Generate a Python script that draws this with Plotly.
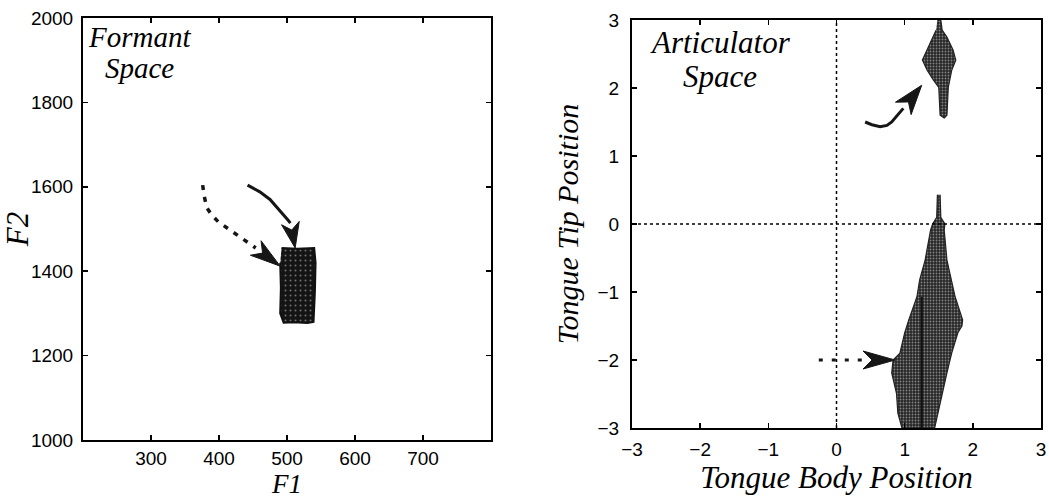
import plotly.graph_objects as go

# ---------------- data ----------------
F1_TICKS = [300, 400, 500, 600, 700]
F2_TICKS = [1000, 1200, 1400, 1600, 1800, 2000]
ART_TICKS = [-3, -2, -1, 0, 1, 2, 3]

# Formant space: region of reached formant values
formant_blob_f1 = [492, 515, 540, 542, 541, 539, 530, 510, 495, 490, 491, 490]
formant_blob_f2 = [1455, 1453, 1455, 1420, 1350, 1280, 1277, 1279, 1278, 1300, 1360, 1420]

# Formant space: solid trajectory and its arrow tip
solid_f1 = [442, 460, 475, 485, 495, 502, 505]
solid_f2 = [1604, 1588, 1570, 1552, 1535, 1520, 1514]
solid_tip = (512, 1455)

# Formant space: dashed trajectory and its arrow tip
dashed_f1 = [376, 378, 382, 390, 399, 416, 434, 446, 454]
dashed_f2 = [1604, 1580, 1550, 1532, 1517, 1498, 1479, 1464, 1455]
dashed_tip = (490, 1412)

# Articulator space: upper region
upper_body = [1.48, 1.53, 1.55, 1.62, 1.71, 1.75, 1.69, 1.66, 1.64, 1.62, 1.58,
              1.52, 1.50, 1.42, 1.33, 1.26, 1.33, 1.41, 1.46]
upper_tip = [3.0, 3.0, 2.85, 2.75, 2.56, 2.41, 2.26, 2.12, 2.01, 1.60, 1.56,
             1.60, 2.01, 2.12, 2.26, 2.41, 2.56, 2.75, 2.85]

# Articulator space: lower region
lower_body = [1.52, 1.53, 1.59, 1.58, 1.62, 1.69, 1.74, 1.85, 1.84, 1.78, 1.69,
              1.62, 1.55, 1.49, 1.44, 0.96, 0.90, 0.88, 0.81, 0.83, 0.93, 1.00,
              1.06, 1.18, 1.22, 1.30, 1.38, 1.41, 1.47, 1.48]
lower_tip = [0.43, 0.10, 0.00, -0.09, -0.53, -0.82, -1.07, -1.41, -1.50, -1.60, -1.90,
             -2.19, -2.49, -2.78, -3.00, -3.00, -2.78, -2.49, -2.19, -2.00, -1.90, -1.60,
             -1.41, -1.07, -0.82, -0.53, -0.09, 0.00, 0.10, 0.43]
inner_body = [1.25, 1.25]
inner_tip = [-1.07, -3.0]

# Articulator space: solid curved trajectory and arrow tip
curve_body = [0.42, 0.52, 0.64, 0.74, 0.81, 0.88, 0.98]
curve_tip = [1.50, 1.46, 1.43, 1.45, 1.50, 1.58, 1.70]
curve_arrow_tip = (1.25, 2.04)

# Articulator space: dashed trajectory and arrow tip
dash_body = [-0.26, 0.39]
dash_tip = [-2.0, -2.0]
dash_arrow_tip = (0.86, -2.0)

# ---------------- layout geometry ----------------
W, H = 1049, 499
L_X = [83, 491]     # pixel extents of the left panel
L_Y = [18, 440]
R_X = [632, 1041]
R_Y = [20, 428]
F1_RANGE = [200, 800]
F2_RANGE = [1000, 2000]
ART_RANGE = [-3, 3]

def xdom(px):
    return [px[0] / W, px[1] / W]

def ydom(py):
    return [1 - py[1] / H, 1 - py[0] / H]

def arrowhead(base, tip, xr, yr, pxx, pxy, halfw, notch=0.28):
    """Notched arrowhead polygon in data coordinates."""
    sx = (pxx[1] - pxx[0]) / (xr[1] - xr[0])
    sy = (pxy[1] - pxy[0]) / (yr[1] - yr[0])
    dx = (tip[0] - base[0]) * sx
    dy = (tip[1] - base[1]) * sy
    ln = (dx * dx + dy * dy) ** 0.5
    ux, uy = dx / ln, dy / ln
    nx, ny = -uy, ux
    bx, by = base[0] * sx, base[1] * sy
    tx, ty = tip[0] * sx, tip[1] * sy
    pts = [(tx, ty), (bx + nx * halfw, by + ny * halfw),
           (bx + ux * ln * notch, by + uy * ln * notch),
           (bx - nx * halfw, by - ny * halfw), (tx, ty)]
    return [p[0] / sx for p in pts], [p[1] / sy for p in pts]

fig = go.Figure()

DARK = "#161616"

# ---- left panel ----
fig.add_trace(go.Scatter(
    x=formant_blob_f1, y=formant_blob_f2, mode="lines", fill="toself",
    line=dict(color="#111", width=2), fillcolor="#151515",
    fillpattern=dict(shape=".", bgcolor="#141414", fgcolor="#cfcfcf",
                     size=5, solidity=0.12),
    xaxis="x", yaxis="y", showlegend=False, hoverinfo="skip"))
fig.add_trace(go.Scatter(
    x=solid_f1, y=solid_f2, mode="lines", line=dict(color=DARK, width=3),
    xaxis="x", yaxis="y", showlegend=False))
fig.add_trace(go.Scatter(
    x=dashed_f1, y=dashed_f2, mode="lines",
    line=dict(color=DARK, width=3.5, dash="5px,7px"),
    xaxis="x", yaxis="y", showlegend=False))
for base, tip, hw in [((solid_f1[-1], solid_f2[-1]), solid_tip, 9),
                      ((dashed_f1[-1], dashed_f2[-1]), dashed_tip, 9)]:
    ax_, ay_ = arrowhead(base, tip, F1_RANGE, F2_RANGE, L_X, L_Y, hw)
    fig.add_trace(go.Scatter(x=ax_, y=ay_, mode="lines", fill="toself",
                             line=dict(color=DARK, width=1), fillcolor=DARK,
                             xaxis="x", yaxis="y", showlegend=False))

# ---- right panel ----
for bx, ty in [(upper_body, upper_tip), (lower_body, lower_tip)]:
    fig.add_trace(go.Scatter(
        x=bx, y=ty, mode="lines", fill="toself",
        line=dict(color="#222", width=1.2), fillcolor="#2a2a2a",
        fillpattern=dict(shape=".", bgcolor="#262626", fgcolor="#e0e0e0",
                         size=3, solidity=0.3),
        xaxis="x2", yaxis="y2", showlegend=False, hoverinfo="skip"))
fig.add_trace(go.Scatter(
    x=inner_body, y=inner_tip, mode="lines", line=dict(color="#111", width=2),
    xaxis="x2", yaxis="y2", showlegend=False))
fig.add_trace(go.Scatter(
    x=curve_body, y=curve_tip, mode="lines", line=dict(color=DARK, width=3),
    xaxis="x2", yaxis="y2", showlegend=False))
fig.add_trace(go.Scatter(
    x=dash_body, y=dash_tip, mode="lines",
    line=dict(color=DARK, width=3, dash="4px,9px"),
    xaxis="x2", yaxis="y2", showlegend=False))
for base, tip, hw in [((curve_body[-1], curve_tip[-1]), curve_arrow_tip, 10),
                      ((dash_body[-1], dash_tip[-1]), dash_arrow_tip, 9)]:
    ax_, ay_ = arrowhead(base, tip, ART_RANGE, ART_RANGE, R_X, R_Y, hw)
    fig.add_trace(go.Scatter(x=ax_, y=ay_, mode="lines", fill="toself",
                             line=dict(color=DARK, width=1), fillcolor=DARK,
                             xaxis="x2", yaxis="y2", showlegend=False))

TICKFONT = dict(family="Liberation Sans, Arial, sans-serif", size=19, color="black")
TITLEFONT = dict(family="Liberation Serif, Times New Roman, serif", size=30, color="black")
TEXTFONT = dict(family="Liberation Serif, Times New Roman, serif", size=29, color="black")

axis_common = dict(showline=True, linecolor="black", linewidth=2, mirror="ticks",
                   ticks="inside", ticklen=5, tickwidth=1.5, tickcolor="black",
                   showgrid=False, zeroline=False, tickfont=TICKFONT,
                   automargin=False, fixedrange=True)

fig.update_layout(
    width=W, height=H, margin=dict(l=0, r=0, t=0, b=0),
    plot_bgcolor="white", paper_bgcolor="white", showlegend=False,
    xaxis=dict(domain=xdom(L_X), range=F1_RANGE, tickvals=F1_TICKS,
               title=dict(text="<i>F1</i>", font=dict(TITLEFONT, size=27), standoff=15),
               ticklabelstandoff=0, anchor="y", **axis_common),
    yaxis=dict(domain=ydom(L_Y), range=F2_RANGE, tickvals=F2_TICKS,
               title=dict(text="<i>F2</i>", font=dict(TITLEFONT, size=31), standoff=6),
               ticklabelstandoff=4, anchor="x", **axis_common),
    xaxis2=dict(domain=xdom(R_X), range=ART_RANGE, tickvals=ART_TICKS,
                title=dict(text="<i>Tongue Body Position</i>", font=dict(TITLEFONT, size=31),
                           standoff=2),
                ticklabelstandoff=3, anchor="y2", **axis_common),
    yaxis2=dict(domain=ydom(R_Y), range=ART_RANGE, tickvals=ART_TICKS,
                title=dict(text="<i>Tongue Tip Position</i>", font=TITLEFONT, standoff=10),
                ticklabelstandoff=7, anchor="x2", **axis_common),
    shapes=[
        dict(type="line", xref="x2", yref="y2 domain", x0=0, x1=0, y0=0, y1=1,
             line=dict(color="black", width=1.5, dash="dot")),
        dict(type="line", xref="x2 domain", yref="y2", x0=0, x1=1, y0=0, y1=0,
             line=dict(color="black", width=1.5, dash="dot")),
    ],
    annotations=[
        dict(text="<i>Formant</i>", x=139 / W, y=1 - 37 / H, xref="paper", yref="paper",
             showarrow=False, font=TEXTFONT, xanchor="center", yanchor="middle"),
        dict(text="<i>Space</i>", x=139 / W, y=1 - 68 / H, xref="paper", yref="paper",
             showarrow=False, font=TEXTFONT, xanchor="center", yanchor="middle"),
        dict(text="<i>Articulator</i>", x=720 / W, y=1 - 43 / H, xref="paper", yref="paper",
             showarrow=False, font=dict(TEXTFONT, size=31), xanchor="center", yanchor="middle"),
        dict(text="<i>Space</i>", x=720 / W, y=1 - 76 / H, xref="paper", yref="paper",
             showarrow=False, font=dict(TEXTFONT, size=31), xanchor="center", yanchor="middle"),
    ],
)

fig.write_html("out.html", config={"displayModeBar": False, "staticPlot": True},
               post_script="document.body.style.margin='0';")
